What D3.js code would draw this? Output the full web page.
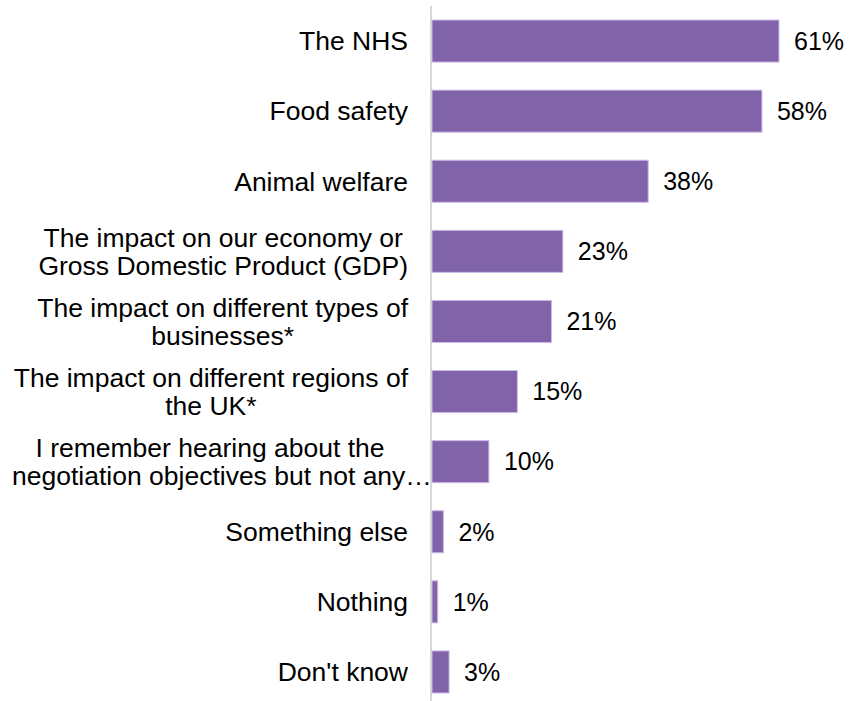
<!DOCTYPE html>
<html>
<head>
<meta charset="utf-8">
<script src="https://cdn.jsdelivr.net/npm/d3@7"></script>
<style>
  html, body { margin: 0; padding: 0; background: #fff; }
  svg { display: block; }
  text { font-family: "Liberation Sans", Arial, sans-serif; fill: #000; }
</style>
</head>
<body>
<svg id="chart" width="849" height="701"></svg>
<script>
// Category labels (line breaks as shown on the chart)
const categories = [
  "The NHS",
  "Food safety",
  "Animal welfare",
  "The impact on our economy or\nGross Domestic Product (GDP)",
  "The impact on different types of\nbusinesses*",
  "The impact on different regions of\nthe UK*",
  "I remember hearing about the\nnegotiation objectives but not any…",
  "Something else",
  "Nothing",
  "Don't know"
];
// Share of respondents (%)
const values = [61, 58, 38, 23, 21, 15, 10, 2, 1, 3];

const width = 849, height = 701;
const axisX = 432;
const labelFont = 26.5;
const valueFont = 25;
const lineHeight = 28;
const labelRight = 408, labelBoxWidth = 396;

const svg = d3.select("#chart");

const x = d3.scaleLinear().domain([0, 61]).range([axisX, 779]);
const y = d3.scaleBand().domain(d3.range(categories.length)).range([6, 707]).paddingInner(0.4).paddingOuter(0.2);

// Category axis line
svg.append("line")
  .attr("x1", axisX - 1).attr("x2", axisX - 1)
  .attr("y1", 6).attr("y2", height)
  .attr("stroke", "#d9d9d9").attr("stroke-width", 2);

// Bars
svg.append("g").selectAll("rect")
  .data(values)
  .join("rect")
  .attr("x", x(0))
  .attr("y", (d, i) => y(i))
  .attr("width", d => x(d) - x(0))
  .attr("height", y.bandwidth())
  .attr("fill", "#8063a9")
  .attr("stroke", "#cdb9ea")
  .attr("stroke-width", 1);

// Value labels
svg.append("g").selectAll("text")
  .data(values)
  .join("text")
  .attr("x", d => x(d) + 15)
  .attr("y", (d, i) => y(i) + y.bandwidth() / 2)
  .attr("dy", "0.35em")
  .style("font-size", valueFont + "px")
  .text(d => d + "%");

// Category labels: lines centred within a right-aligned box
const labels = svg.append("g");
categories.forEach((cat, i) => {
  const lines = cat.split("\n");
  const cy = y(i) + y.bandwidth() / 2;
  const g = labels.append("g");
  const nodes = lines.map((ln, k) => g.append("text")
    .style("font-size", labelFont + "px")
    .attr("y", cy + (k - (lines.length - 1) / 2) * lineHeight)
    .attr("dy", "0.35em")
    .text(ln));
  const widths = nodes.map(n => n.node().getComputedTextLength());
  const maxW = Math.min(d3.max(widths), labelBoxWidth);
  const cx = labelRight - maxW / 2;
  nodes.forEach((n, k) => {
    if (widths[k] > labelBoxWidth) {
      n.attr("x", labelRight - labelBoxWidth).attr("text-anchor", "start");
    } else {
      n.attr("x", cx).attr("text-anchor", "middle");
    }
  });
});
</script>
</body>
</html>
